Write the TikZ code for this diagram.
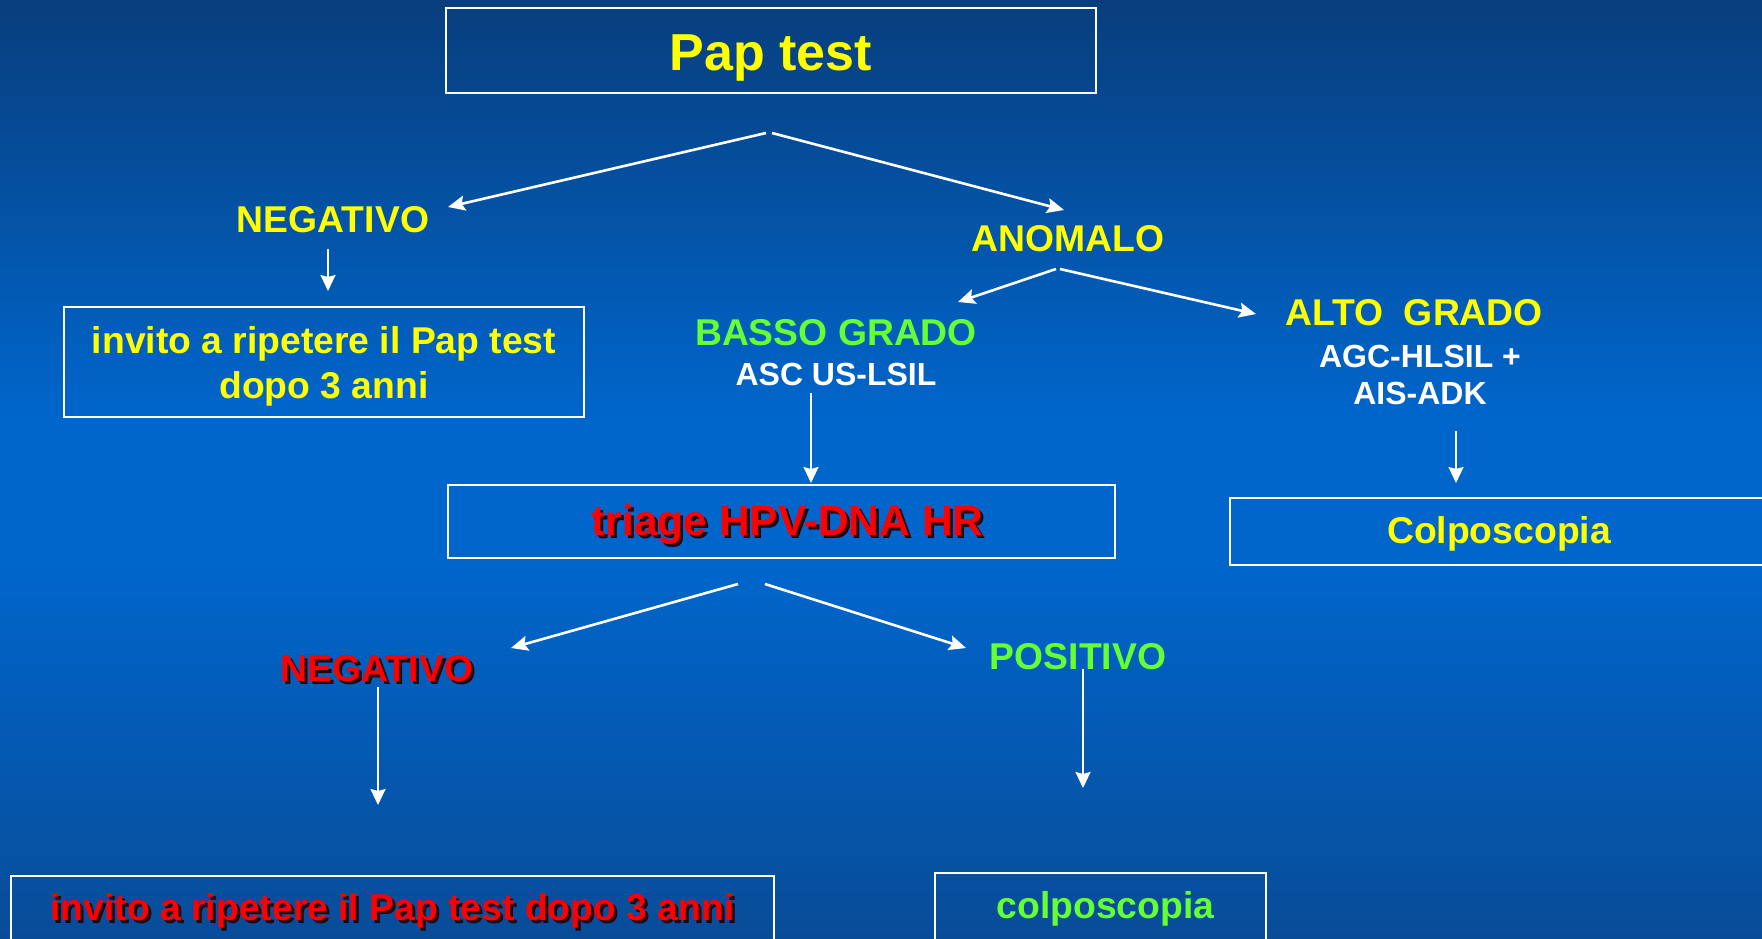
\documentclass[tikz,border=0pt]{standalone}
\usepackage{fontspec}
\setmainfont{Liberation Sans}
\usetikzlibrary{arrows.meta}
\definecolor{bgtop}{RGB}{8,62,125}
\definecolor{bgmid}{RGB}{0,102,204}
\definecolor{bgbot}{RGB}{8,76,152}
\definecolor{txtyellow}{RGB}{255,255,0}
\definecolor{txtgreen}{RGB}{102,255,51}
\definecolor{txtred}{RGB}{255,0,0}
\definecolor{shadowcol}{RGB}{40,0,10}
\newcommand{\shadowed}[1]{\rlap{\kern3pt\raisebox{-3pt}{\color{shadowcol}#1}}#1}
\newcommand{\lowered}[2]{\raisebox{-#1}[\height][\depth]{#2}}
\begin{document}
\begin{tikzpicture}[x=1pt,y=-1pt,
  box/.style={draw=white, line width=2pt, inner sep=0pt},
  big/.style={font=\fontsize{37.3}{45}\selectfont\bfseries},
  small/.style={font=\fontsize{32}{37}\selectfont\bfseries},
  arr/.style={draw=white, line width=2.6pt, -{Stealth[length=17pt,width=15pt,inset=3pt]}},
  varr/.style={draw=white, line width=2pt, -{Stealth[length=16pt,width=15pt,inset=2pt]}}]
\useasboundingbox (0,0) rectangle (1762,939);
\clip (0,0) rectangle (1762,939);
\shade[top color=bgtop, bottom color=bgmid] (0,0) rectangle (1762,420);
\fill[bgmid] (0,419) rectangle (1762,560);
\shade[top color=bgmid, bottom color=bgbot] (0,559) rectangle (1762,939);

% boxes
\node[box, minimum width=650, minimum height=85, text=txtyellow,
      font=\fontsize{52}{60}\selectfont\bfseries] (pap) at (771,51) {\lowered{7pt}{Pap test}};
\node[box, minimum width=520, minimum height=110, text=txtyellow, big, align=center] (inv1) at (324,362)
  {\lowered{4pt}{invito a ripetere il Pap test}\\\lowered{4pt}{dopo 3 anni}};
\node[box, minimum width=667, minimum height=73, text=txtred,
      font=\fontsize{42.5}{48}\selectfont\bfseries] (triage) at (781.5,521.5)
  {\hspace{12pt}\lowered{5pt}{\shadowed{triage HPV-DNA HR}}};
\node[box, minimum width=538, minimum height=67, text=txtyellow, big] (colpo1) at (1499,531.5)
  {\lowered{2pt}{Colposcopia}};
\node[box, minimum width=763, minimum height=64, text=txtred, big] (inv2) at (392.5,908)
  {\lowered{4pt}{\shadowed{invito a ripetere il Pap test dopo 3 anni}}};
\node[box, minimum width=331, minimum height=67, text=txtgreen, big] (colpo2) at (1100.5,906.5)
  {\hspace{10pt}\lowered{2pt}{colposcopia}};

% labels
\node[text=txtyellow, big] (neg1) at (333,220) {NEGATIVO};
\node[text=txtyellow, big] (anom) at (1068,239) {ANOMALO};
\node[text=txtgreen, big] (basso) at (836,333) {BASSO GRADO};
\node[text=white, small] (ascus) at (836,374) {ASC US-LSIL};
\node[text=txtyellow, big] (alto) at (1414,313) {ALTO\ \ GRADO};
\node[text=white, small, align=center] (agc) at (1420,374.5) {AGC-HLSIL +\\AIS-ADK};
\node[text=txtred, big] (neg2) at (377,670) {\shadowed{NEGATIVO}};
\node[text=txtgreen, big] (pos) at (1078,657) {POSITIVO};

% connector end points
\coordinate (papL) at (766,133);
\coordinate (papR) at (772,133);
\coordinate (neg1in) at (448,207);
\coordinate (anomin) at (1064,210);
\coordinate (neg1out) at (328,249);
\coordinate (inv1in) at (328,291);
\coordinate (anomL) at (1056,269);
\coordinate (anomR) at (1060,269);
\coordinate (bassoin) at (958,302);
\coordinate (altoin) at (1256,314);
\coordinate (ascusout) at (811,393);
\coordinate (triagein) at (811,483);
\coordinate (agcout) at (1456,431);
\coordinate (colpo1in) at (1456,483);
\coordinate (triageL) at (738,584);
\coordinate (triageR) at (765,584);
\coordinate (neg2in) at (511,648);
\coordinate (posin) at (966,648);
\coordinate (neg2out) at (378,687);
\coordinate (inv2in) at (378,805);
\coordinate (posout) at (1083,669);
\coordinate (colpo2in) at (1083,788);

\draw[arr] (papL) -- (neg1in);
\draw[arr] (papR) -- (anomin);
\draw[varr] (neg1out) -- (inv1in);
\draw[arr] (anomL) -- (bassoin);
\draw[arr] (anomR) -- (altoin);
\draw[varr] (ascusout) -- (triagein);
\draw[varr] (agcout) -- (colpo1in);
\draw[arr] (triageL) -- (neg2in);
\draw[arr] (triageR) -- (posin);
\draw[varr] (neg2out) -- (inv2in);
\draw[varr] (posout) -- (colpo2in);
\end{tikzpicture}
\end{document}
